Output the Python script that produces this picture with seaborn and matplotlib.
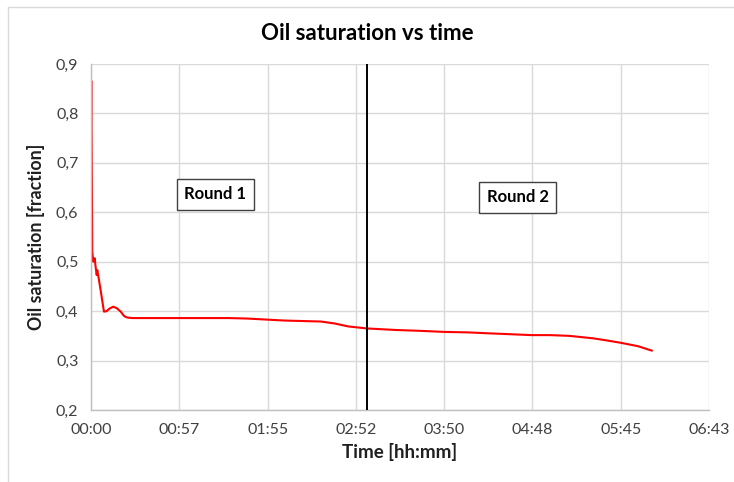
import matplotlib
matplotlib.use("Agg")
import matplotlib.pyplot as plt
import matplotlib.lines as mlines
import seaborn as sns
import pandas as pd

# Data (time in hours, oil saturation fraction)
time_h = [0.0, 0.003, 0.008, 0.014, 0.025, 0.040, 0.050, 0.062, 0.068, 0.085, 0.105,
          0.125, 0.141, 0.17, 0.20, 0.242, 0.28, 0.323, 0.36, 0.395, 0.45, 0.6, 0.9,
          1.2, 1.5, 1.7, 1.9, 2.1, 2.3, 2.5, 2.65, 2.8, 3.0, 3.3, 3.6, 3.84, 4.1,
          4.34, 4.6, 4.79, 4.99, 5.2, 5.46, 5.6, 5.76, 5.95, 6.10]
saturation = [0.78, 0.866, 0.70, 0.52, 0.50, 0.507, 0.49, 0.473, 0.483, 0.465, 0.442,
              0.418, 0.399, 0.400, 0.405, 0.409, 0.406, 0.399, 0.390, 0.387, 0.386, 0.386, 0.386,
              0.386, 0.386, 0.385, 0.383, 0.381, 0.380, 0.379, 0.375, 0.369, 0.365, 0.362, 0.360,
              0.358, 0.357, 0.355, 0.353, 0.3515, 0.3515, 0.350, 0.345, 0.341, 0.336, 0.329, 0.320]

x_ticks = [0.0, 0.96, 1.92, 2.88, 3.84, 4.80, 5.76, 6.72]
x_tick_labels = ["00:00", "00:57", "01:55", "02:52", "03:50", "04:48", "05:45", "06:43"]
y_ticks = [0.2, 0.3, 0.4, 0.5, 0.6, 0.7, 0.8, 0.9]
y_tick_labels = ["0,2", "0,3", "0,4", "0,5", "0,6", "0,7", "0,8", "0,9"]
round_split_h = 3.0
annotation_labels = ["Round 1", "Round 2"]
annotation_x = [1.35, 4.64]
annotation_y = [0.636, 0.630]

sns.set_style("white")
plt.rcParams['font.family'] = ['Lato', 'DejaVu Sans']

df = pd.DataFrame({"time": time_h, "sat": saturation})

fig = plt.figure(figsize=(7.34, 4.82), dpi=100)
ax = fig.add_axes([91/734, 1-410/482, (709-91)/734, (410-64)/482])

sns.lineplot(data=df, x="time", y="sat", ax=ax, color="#ff0000", linewidth=1.5,
             estimator=None, sort=False)
ax.axvline(round_split_h, color="black", linewidth=1.4, zorder=5)

ax.set_xlim(0, 6.72)
ax.set_ylim(0.2, 0.9)
ax.set_xticks(x_ticks)
ax.set_xticklabels(x_tick_labels)
ax.set_yticks(y_ticks)
ax.set_yticklabels(y_tick_labels)
ax.grid(True, color="#d9d9d9", linewidth=1)
ax.set_axisbelow(True)
for s in ["top", "right"]:
    ax.spines[s].set_visible(False)
for s in ["left", "bottom"]:
    ax.spines[s].set_color("#bfbfbf")
    ax.spines[s].set_linewidth(1)
ax.tick_params(axis="both", which="major", direction="out", length=5, width=1,
               color="#bfbfbf", labelsize=11.5, labelcolor="#404040", pad=4)

ax.set_xlabel("Time [hh:mm]", fontsize=13.5, fontweight="bold", color="#202020", labelpad=5)
ax.set_ylabel("Oil saturation [fraction]", fontsize=12.8, fontweight="bold", color="#202020", labelpad=8)
fig.text(0.5, 1-33/482, "Oil saturation vs time", ha="center", va="center",
         fontsize=16, fontweight="bold", color="black")

for label, xv, yv in zip(annotation_labels, annotation_x, annotation_y):
    ax.text(xv, yv, label, ha="center", va="center", fontsize=12, fontweight="bold",
            color="black",
            bbox=dict(boxstyle="square,pad=0.45", facecolor="white", edgecolor="#404040", linewidth=1))

# chart-area border (visible only at top and left, as the image is cropped)
fig.lines.append(mlines.Line2D([8/734, 1.0], [1-7/482, 1-7/482], transform=fig.transFigure,
                               color="#d9d9d9", linewidth=1))
fig.lines.append(mlines.Line2D([8/734, 8/734], [0.0, 1-7/482], transform=fig.transFigure,
                               color="#d9d9d9", linewidth=1))

fig.savefig("out.png", dpi=100)
